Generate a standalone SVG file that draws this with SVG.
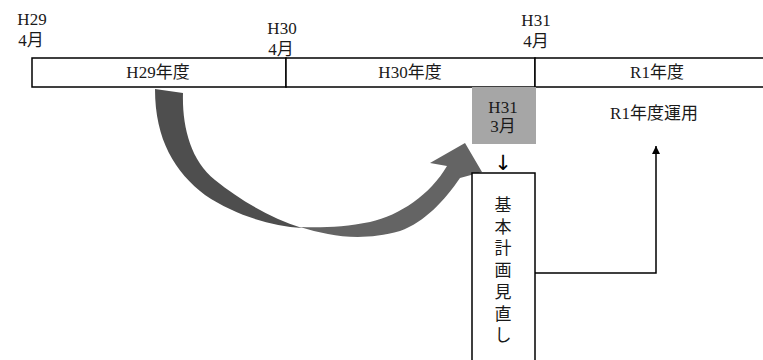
<svg xmlns="http://www.w3.org/2000/svg" width="763" height="360" viewBox="0 0 763 360">
<defs>
<style>
text{font-family:"Liberation Serif","Noto Sans CJK JP",serif;font-size:17px;fill:#1a1a1a;text-anchor:middle}
.arr{font-family:"DejaVu Sans",sans-serif;fill:#000;font-size:21px}
.box{fill:#fff;stroke:#000;stroke-width:1.5}
.ln{fill:none;stroke:#000;stroke-width:1.5}
</style>
<marker id="ah" viewBox="0 0 10 10" refX="10" refY="5" markerWidth="8" markerHeight="8" markerUnits="userSpaceOnUse" orient="auto">
<path d="M0,0 L10,5 L0,10 Z" fill="#000"/>
</marker>
</defs>
<rect width="763" height="360" fill="#fff"/>
<g id="labels-top">
<text x="32" y="25">H29</text><text x="31" y="46">4月</text>
<text x="282" y="34">H30</text><text x="281" y="55">4月</text>
<text x="536" y="26">H31</text><text x="536" y="47">4月</text>
</g>
<g id="timeline">
<rect class="box" x="32" y="58" width="254" height="29"/>
<rect class="box" x="286" y="58" width="249" height="29"/>
<rect class="box" x="535" y="58" width="240" height="29"/>
<text x="158" y="78">H29年度</text>
<text x="410" y="78">H30年度</text>
<text x="657" y="78">R1年度</text>
</g>
<g id="curved-arrow">
<path d="M155,89 L183,93 C182,125 190,160 215,180 C240,200 270,218 302,228 C270,226 235,215 205,195 C175,172 155,140 155,89 Z" fill="#4e4e4e"/>
<path d="M300,227 C330,236 360,242 400,231 C425,222 445,200 460,178 L482,172 L465,143 L430,163 L447,166 C430,195 400,215 370,222 C345,227 320,228 300,227 Z" fill="#646464"/>
</g>
<g id="h31-march">
<rect x="472" y="87" width="64" height="57" fill="#a6a6a6"/>
<text x="503" y="113">H31</text>
<text x="503" y="132">3月</text>
</g>
<g id="down-mark"><text class="arr" x="503" y="170">↓︎</text></g>
<g id="plan-review">
<rect class="box" x="472" y="173" width="63" height="200"/>
<text x="503" y="211">基</text>
<text x="503" y="233">本</text>
<text x="503" y="254">計</text>
<text x="503" y="276">画</text>
<text x="503" y="298">見</text>
<text x="503" y="320">直</text>
<text x="503" y="341">し</text>
</g>
<g id="r1-operation"><text x="654" y="119">R1年度運用</text></g>
<g id="connectors">
<path class="ln" d="M535,273 H656 V146" marker-end="url(#ah)"/>
</g>
</svg>
